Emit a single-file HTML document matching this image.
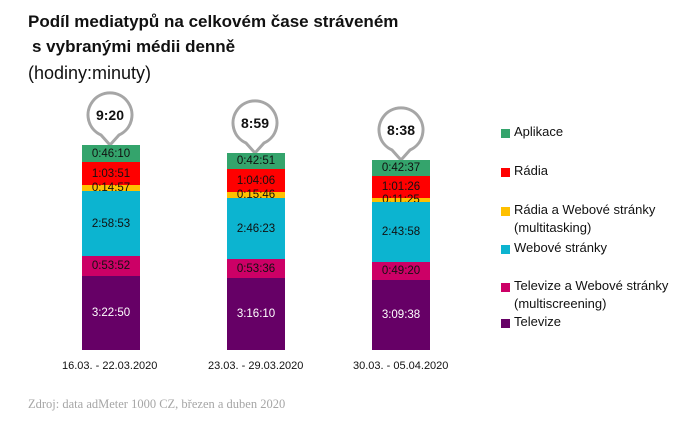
<!DOCTYPE html>
<html><head><meta charset="utf-8"><style>
body{margin:0;width:700px;height:422px;background:#fff;position:relative;overflow:hidden;font-family:"Liberation Sans",sans-serif;}
.a{position:absolute;white-space:nowrap;}
.t{font-weight:bold;font-size:17px;color:#111;left:28px;}
.seg{position:absolute;left:0;width:58px;display:flex;align-items:center;justify-content:center;font-size:11.5px;color:#111;overflow:visible;}
.bar{position:absolute;width:58px;}
.lg{position:absolute;left:501px;width:9px;height:9px;}
.lt{position:absolute;left:514px;font-size:13px;color:#111;}
.d{font-size:11px;color:#111;top:360px;}
</style></head><body>
<div class="a t" style="top:12px">Podíl mediatypů na celkovém čase stráveném</div>
<div class="a t" style="top:37px;left:32px">s vybranými médii denně</div>
<div class="a" style="top:63px;left:28px;font-size:18px;color:#111">(hodiny:minuty)</div>

<svg class="a" style="left:0;top:0" width="700" height="422">
<g fill="#fff" stroke="#a6a6a6" stroke-width="3">
<path d="M101,135 A22,22 0 1 1 119,135 L110,145 Z"/>
<path d="M246,143 A22,22 0 1 1 264,143 L255,153 Z"/>
<path d="M392,150 A22,22 0 1 1 410,150 L401,160 Z"/>
</g>
<g font-family="Liberation Sans" font-weight="bold" font-size="14" text-anchor="middle" fill="#111">
<text x="110" y="120">9:20</text>
<text x="255" y="128">8:59</text>
<text x="401" y="135">8:38</text>
</g>
</svg>

<div class="bar" style="left:82px;top:145px;height:205px">
<div class="seg" style="top:0;height:17px;background:#34a46c">0:46:10</div>
<div class="seg" style="top:17px;height:23px;background:#ff0000">1:03:51</div>
<div class="seg" style="top:40px;height:6px;background:#ffc000">0:14:57</div>
<div class="seg" style="top:46px;height:65px;background:#0cb4d0">2:58:53</div>
<div class="seg" style="top:111px;height:20px;background:#cc0066">0:53:52</div>
<div class="seg" style="top:131px;height:74px;background:#660066;color:#fff">3:22:50</div>
</div>
<div class="bar" style="left:227px;top:153px;height:197px">
<div class="seg" style="top:0;height:16px;background:#34a46c">0:42:51</div>
<div class="seg" style="top:16px;height:23px;background:#ff0000">1:04:06</div>
<div class="seg" style="top:39px;height:6px;background:#ffc000">0:15:46</div>
<div class="seg" style="top:45px;height:61px;background:#0cb4d0">2:46:23</div>
<div class="seg" style="top:106px;height:19px;background:#cc0066">0:53:36</div>
<div class="seg" style="top:125px;height:72px;background:#660066;color:#fff">3:16:10</div>
</div>
<div class="bar" style="left:372px;top:160px;height:190px">
<div class="seg" style="top:0;height:16px;background:#34a46c">0:42:37</div>
<div class="seg" style="top:16px;height:22px;background:#ff0000">1:01:26</div>
<div class="seg" style="top:38px;height:4px;background:#ffc000">0:11:25</div>
<div class="seg" style="top:42px;height:60px;background:#0cb4d0">2:43:58</div>
<div class="seg" style="top:102px;height:18px;background:#cc0066">0:49:20</div>
<div class="seg" style="top:120px;height:70px;background:#660066;color:#fff">3:09:38</div>
</div>

<div class="a d" style="left:62px">16.03. - 22.03.2020</div>
<div class="a d" style="left:208px">23.03. - 29.03.2020</div>
<div class="a d" style="left:353px">30.03. - 05.04.2020</div>

<div class="lg" style="top:129px;background:#34a46c"></div><div class="lt" style="top:124px">Aplikace</div>
<div class="lg" style="top:168px;background:#ff0000"></div><div class="lt" style="top:163px">Rádia</div>
<div class="lg" style="top:207px;background:#ffc000"></div><div class="lt" style="top:202px">Rádia a Webové stránky</div>
<div class="lt" style="top:220px">(multitasking)</div>
<div class="lg" style="top:245px;background:#0cb4d0"></div><div class="lt" style="top:240px">Webové stránky</div>
<div class="lg" style="top:283px;background:#cc0066"></div><div class="lt" style="top:278px">Televize a Webové stránky</div>
<div class="lt" style="top:296px">(multiscreening)</div>
<div class="lg" style="top:319px;background:#660066"></div><div class="lt" style="top:314px">Televize</div>

<div class="a" style="left:28px;top:397px;font-family:'Liberation Serif',serif;font-size:12.5px;color:#a6a6a6">Zdroj: data adMeter 1000 CZ, březen a duben 2020</div>
</body></html>
